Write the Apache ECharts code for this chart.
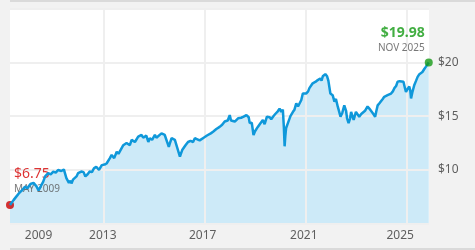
<!DOCTYPE html>
<html><head><meta charset="utf-8">
<script src="https://cdn.jsdelivr.net/npm/echarts@6/dist/echarts.min.js"></script>
<style>html,body{margin:0;padding:0;background:#f2f2f2;overflow:hidden}#c{width:475px;height:250px}</style>
</head><body><div id="c"></div>
<script>
const years = [2009.31,2009.45,2009.55,2009.65,2009.78,2009.9,2010.0,2010.12,2010.24,2010.35,2010.44,2010.55,2010.62,2010.70,2010.82,2010.92,2011.02,2011.12,2011.21,2011.34,2011.44,2011.48,2011.54,2011.64,2011.7,2011.74,2011.8,2011.87,2011.94,2012.0,2012.13,2012.22,2012.29,2012.38,2012.46,2012.55,2012.63,2012.72,2012.79,2012.83,2012.94,2013.05,2013.13,2013.26,2013.33,2013.43,2013.53,2013.6,2013.66,2013.79,2013.92,2014.05,2014.12,2014.25,2014.38,2014.51,2014.58,2014.64,2014.7,2014.78,2014.84,2014.93,2015.04,2015.1,2015.17,2015.3,2015.43,2015.5,2015.59,2015.65,2015.70,2015.83,2015.9,2016.03,2016.12,2016.25,2016.35,2016.45,2016.55,2016.62,2016.72,2016.81,2016.88,2016.97,2017.1,2017.25,2017.34,2017.47,2017.6,2017.7,2017.8,2017.92,2018.0,2018.05,2018.1,2018.2,2018.33,2018.45,2018.55,2018.66,2018.75,2018.79,2018.87,2018.94,2019.0,2019.11,2019.2,2019.31,2019.38,2019.47,2019.58,2019.64,2019.71,2019.8,2019.9,2019.97,2020.04,2020.1,2020.14,2020.17,2020.2,2020.23,2020.3,2020.4,2020.5,2020.56,2020.63,2020.7,2020.76,2020.83,2020.89,2020.96,2021.02,2021.1,2021.15,2021.22,2021.28,2021.4,2021.48,2021.58,2021.63,2021.68,2021.74,2021.78,2021.85,2021.9,2021.98,2022.07,2022.14,2022.2,2022.27,2022.33,2022.38,2022.45,2022.53,2022.6,2022.64,2022.7,2022.76,2022.8,2022.86,2022.9,2022.99,2023.06,2023.12,2023.2,2023.26,2023.35,2023.45,2023.52,2023.59,2023.68,2023.75,2023.8,2023.85,2023.92,2023.98,2024.05,2024.11,2024.18,2024.24,2024.3,2024.38,2024.45,2024.51,2024.58,2024.64,2024.72,2024.79,2024.87,2024.93,2024.97,2025.03,2025.1,2025.14,2025.17,2025.22,2025.3,2025.37,2025.43,2025.5,2025.62,2025.7,2025.76,2025.87];
const navValues = [6.75,7.2,7.5,7.8,8.1,8.45,8.3,8.7,8.8,8.5,8.1,8.6,8.9,9.4,9.7,9.6,9.85,9.75,10.0,9.9,10.05,10.0,9.25,8.8,9.0,8.75,9.1,9.05,9.4,9.7,9.85,9.8,9.4,9.6,9.85,9.8,10.15,10.3,10.3,10.0,10.45,10.5,10.6,11.1,11.4,11.1,11.7,11.5,11.55,12.3,12.5,12.3,12.8,12.6,13.1,13.25,13.0,13.1,13.2,12.6,12.95,12.8,13.25,13.0,13.1,13.4,13.25,13.2,12.15,12.6,12.95,12.8,12.65,11.25,11.85,12.3,12.6,12.7,12.6,12.95,12.85,12.75,12.7,13.0,13.2,13.4,13.55,13.8,14.0,14.2,14.5,14.6,15.1,14.6,14.7,14.5,14.8,14.85,14.95,15.1,14.9,14.35,14.4,13.25,13.6,14.0,14.3,14.65,14.25,14.95,14.9,14.7,14.95,15.2,15.45,15.7,15.4,15.6,14.0,12.2,13.2,13.9,14.35,15.0,15.4,15.6,16.2,15.9,15.8,16.5,17.1,17.2,17.1,17.3,17.6,17.75,18.05,18.2,18.35,18.5,18.3,18.7,18.65,18.9,18.7,18.3,17.1,16.95,16.35,16.6,15.9,15.4,14.95,15.3,16.0,15.5,14.8,14.35,14.8,15.4,15.55,14.65,15.4,15.25,14.95,15.2,15.25,15.5,15.9,15.7,15.55,15.2,14.95,15.5,16.0,16.2,16.35,16.6,16.8,16.9,16.95,16.8,17.1,17.3,17.6,17.8,18.2,18.25,18.35,18.2,17.6,17.25,17.5,17.75,17.4,16.65,17.2,17.9,18.3,18.65,18.9,19.1,19.4,19.6,19.98];
const xTickLabels = ['2009','2013','2017','2021','2025'];
const xGridYears = [2013, 2017, 2021, 2025];
const yTickValues = [10, 15, 20];
const startValueText = '$6.75';
const startDateText = 'MAY 2009';
const endValueText = '$19.98';
const endDateText = 'NOV 2025';

const seriesData = years.map((y, i) => [y, navValues[i]]);
const last = seriesData.length - 1;
// label anchor positions along the axis (the first label sits inside the plot)
const xLabelAt = [2010.44, 2012.98, 2016.93, 2020.93, 2024.74];
const labelMap = {};
xLabelAt.forEach((v, i) => { labelMap[v.toFixed(2)] = xTickLabels[i]; });

const FONT = "'Segoe UI','Noto Sans',sans-serif";
const chart = echarts.init(document.getElementById('c'), null, {renderer: 'canvas'});
chart.setOption({
  animation: false,
  backgroundColor: '#f2f2f2',
  graphic: [
    {type: 'rect', shape: {x: 10, y: 0, width: 465, height: 2}, style: {fill: '#dadada'}, silent: true},
    {type: 'rect', shape: {x: 10, y: 248, width: 465, height: 2}, style: {fill: '#dadada'}, silent: true}
  ],
  grid: {left: 10, right: 46, top: 8.5, bottom: 26.2, show: true, backgroundColor: '#ffffff', borderWidth: 0},
  xAxis: {
    type: 'value', min: 2009.31, max: 2025.88, z: 2,
    axisLine: {show: false},
    axisTick: {show: false, customValues: xGridYears},
    splitLine: {show: true, lineStyle: {color: '#efefef', width: 2}},
    axisLabel: {
      customValues: xLabelAt, margin: 6, color: '#5f5f5f', fontSize: 12, fontFamily: FONT,
      formatter: v => labelMap[Number(v).toFixed(2)] || ''
    }
  },
  yAxis: {
    type: 'value', position: 'right', min: 5, max: 25, interval: 5, z: 2,
    axisLine: {show: false}, axisTick: {show: false},
    splitLine: {show: true, lineStyle: {color: '#efefef', width: 2}},
    axisLabel: {
      customValues: yTickValues, margin: 9, color: '#5f5f5f', fontSize: 12, fontFamily: FONT,
      formatter: v => '$' + v
    }
  },
  series: [
    {
      type: 'line', data: seriesData, showSymbol: false, z: 1, silent: true,
      lineStyle: {width: 0, opacity: 0},
      areaStyle: {color: '#cdeaf8', opacity: 1}
    },
    {
      type: 'scatter', z: 2, clip: false, symbolSize: 8, silent: true,
      data: [
        {
          value: seriesData[0], itemStyle: {color: '#cc0000'},
          label: {
            show: true, position: 'right', distance: 0, offset: [0, -24.6], align: 'left',
            formatter: '{v|' + startValueText + '}\n{d|' + startDateText + '}',
            rich: {
              v: {fontSize: 14, lineHeight: 17, color: '#d40000', fontFamily: FONT},
              d: {fontSize: 10, lineHeight: 12, color: '#555555', fontFamily: FONT}
            }
          }
        }
      ]
    },
    {
      type: 'line', data: seriesData, showSymbol: false, z: 3, silent: true,
      lineStyle: {color: '#0f98da', width: 2.5}
    },
    {
      type: 'scatter', z: 4, clip: false, symbolSize: 8, silent: true,
      data: [
        {
          value: seriesData[last], itemStyle: {color: '#169a16'},
          label: {
            show: true, position: 'left', distance: 0, offset: [0, -22.9], align: 'right',
            formatter: '{v|' + endValueText + '}\n{d|' + endDateText + '}',
            rich: {
              v: {fontSize: 14, lineHeight: 17, color: '#139a13', fontWeight: 'bold', fontFamily: FONT, align: 'right'},
              d: {fontSize: 10, lineHeight: 13, color: '#555555', fontFamily: FONT, align: 'right'}
            }
          }
        }
      ]
    }
  ]
});
</script>
</body></html>
